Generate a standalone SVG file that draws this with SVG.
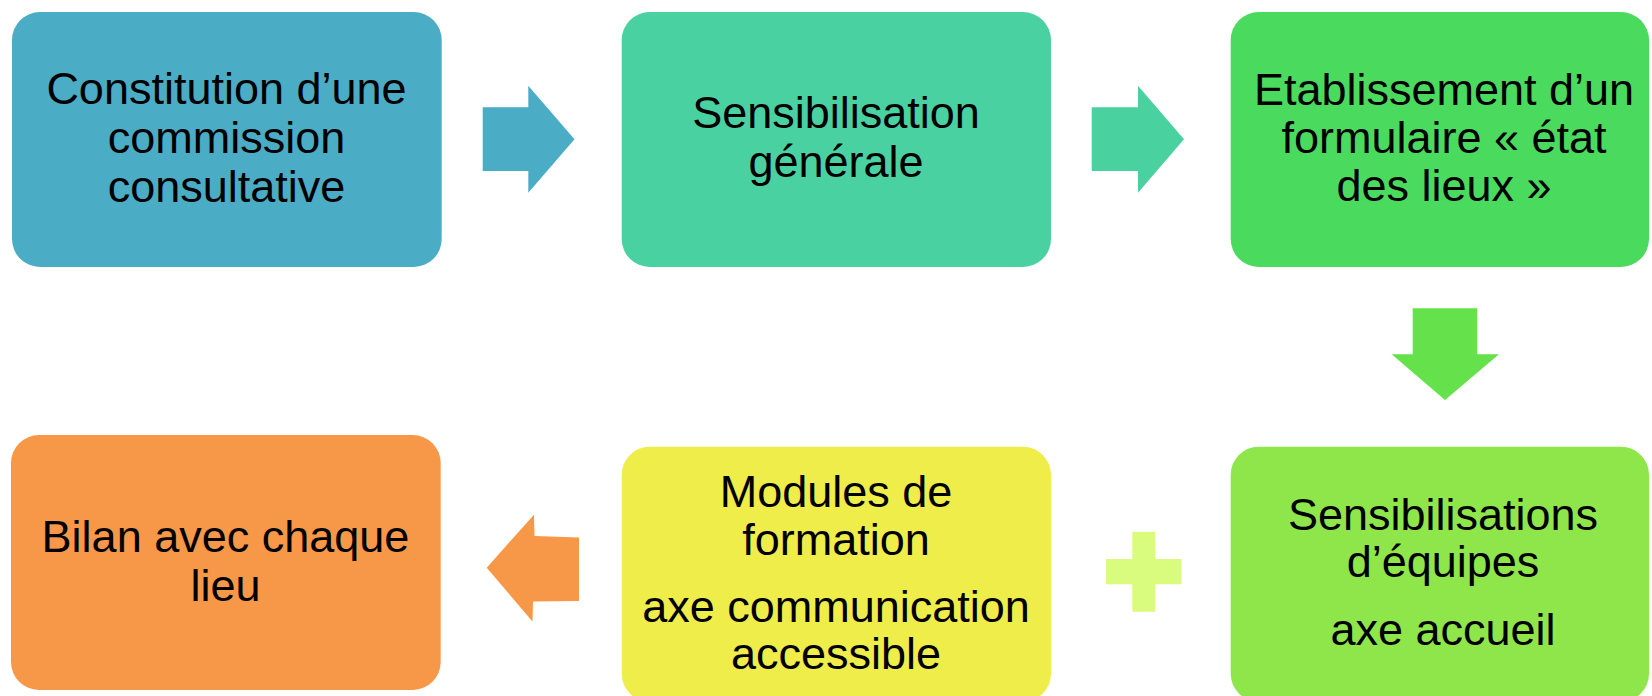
<svg xmlns="http://www.w3.org/2000/svg" width="1652" height="696" viewBox="0 0 1652 696">
<style>
text{font-family:"Liberation Sans",Arial,sans-serif;font-size:45px;fill:#000;text-anchor:middle}
.box{rx:28px;ry:28px}
</style>
<rect width="1652" height="696" fill="#fff"/>
<g id="connectors">
<polygon id="a1" points="482.7,107.3 528.3,107.3 528.3,85.7 574.5,139.3 528.3,192.7 528.3,171 482.7,171" fill="#4BACC6"/>
<polygon id="a2" points="1091.7,107.3 1138,107.3 1138,85.7 1184,139.3 1138,192.7 1138,171 1091.7,171" fill="#4AD1A0"/>
<polygon id="a3" points="1412.7,308.3 1477.3,308.3 1477.3,354.3 1499,354.3 1445,400 1391.7,354.3 1412.7,354.3" fill="#64E14B"/>
<polygon id="a4" points="486.7,567.7 534,514.7 534.5,536 579,537.5 579,601 533,601.5 532.5,621.5" fill="#F79748"/>
<path id="plus" d="M1132.3,531.7 H1155.1 V559 H1181.5 V584.3 H1155.1 V611.7 H1132.3 V584.3 H1106 V559 H1132.3 Z" fill="#DAFC7E"/>
</g>
<g id="n1">
<rect class="box" x="12" y="12" width="429.7" height="255" fill="#4BACC6"/>
<text x="226.5" y="104">Constitution d’une</text>
<text x="226.5" y="153">commission</text>
<text x="226.5" y="202">consultative</text>
</g>
<g id="n2">
<rect class="box" x="621.7" y="12" width="429.3" height="255" fill="#4AD1A2"/>
<text x="836" y="127.7">Sensibilisation</text>
<text x="836" y="176.7">générale</text>
</g>
<g id="n3">
<rect class="box" x="1230.7" y="12" width="418.3" height="255" fill="#4ADB5E"/>
<text x="1444" y="105.3">Etablissement d’un</text>
<text x="1444" y="153.3">formulaire « état</text>
<text x="1444" y="201.3">des lieux »</text>
</g>
<g id="n4">
<rect class="box" x="1230.7" y="446.7" width="418.3" height="255" fill="#8EE64B"/>
<text x="1443" y="530">Sensibilisations</text>
<text x="1443" y="576.7">d’équipes</text>
<text x="1443" y="645">axe accueil</text>
</g>
<g id="n5">
<rect class="box" x="621.7" y="446.7" width="429.3" height="255" fill="#EEED4A"/>
<text x="836" y="506.7">Modules de</text>
<text x="836" y="555">formation</text>
<text x="836" y="621.7">axe communication</text>
<text x="836" y="669">accessible</text>
</g>
<g id="n6">
<rect class="box" x="11" y="435" width="429.7" height="255" fill="#F79748"/>
<text x="225.5" y="551.7">Bilan avec chaque</text>
<text x="225.5" y="601">lieu</text>
</g>
</svg>
